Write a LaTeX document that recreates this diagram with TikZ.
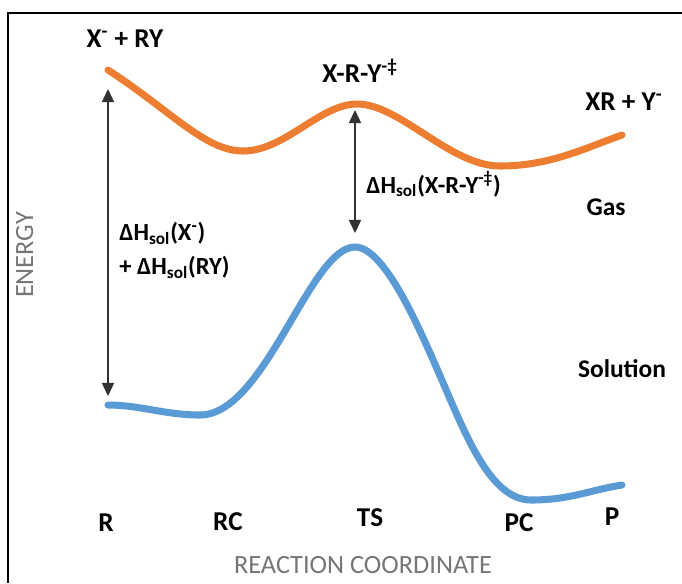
\documentclass[tikz,border=0pt]{standalone}
\usepackage{fontspec}
\setmainfont{Carlito}
\usetikzlibrary{arrows.meta}
\usepackage{xcolor}
\definecolor{GasOrange}{RGB}{237,125,49}
\definecolor{SolBlue}{RGB}{91,155,213}
\definecolor{AxisGray}{RGB}{118,118,118}

\begin{document}
\begin{tikzpicture}[
x=0.02cm,y=-0.02cm,
curve/.style={
line width=4pt,
line cap=round
},
species/.style={
anchor=base,
inner sep=0pt,
font=\fontsize{15.5}{18}\selectfont\bfseries
},
state/.style={
anchor=base,
inner sep=0pt,
font=\fontsize{15.5}{18}\selectfont\bfseries
},
phase/.style={
anchor=base,
inner sep=0pt,
font=\fontsize{14.5}{17}\selectfont\bfseries
},
dh/.style={
inner sep=0pt,
align=left,
font=\fontsize{14}{19.5}\selectfont\bfseries
},
axis/.style={
inner sep=0pt,
text=AxisGray,
font=\fontsize{15}{17}\selectfont
},
arrow/.style={
{Triangle[length=7.5pt,width=7pt]}-{Triangle[length=7.5pt,width=7pt]},
line width=0.6pt,
draw=black!80
}
]
\useasboundingbox (0,0) rectangle (682,583);

% frame
\draw[line width=0.8pt] (8,583) |- (682,13);

% energy curves
\draw[curve,GasOrange] (108,70) .. controls (170,110) and (205,151) .. (243,151)
  .. controls (285,151) and (320,104) .. (357,104)
  .. controls (400,104) and (450,166) .. (500,166)
  .. controls (550,166) and (585,148) .. (622,135);
\draw[curve,SolBlue] (108,405) .. controls (140,405) and (165,415) .. (200,415)
  .. controls (265,415) and (310,247) .. (355,247)
  .. controls (385,247) and (420,330) .. (441,378)
  .. controls (465,433) and (490,500) .. (531,500)
  .. controls (570,500) and (590,490) .. (622,485);

% solvation gaps
\coordinate (gasR) at (108,89);
\coordinate (solR) at (108,396);
\coordinate (gasTS) at (355,110);
\coordinate (solTS) at (355,233);
\draw[arrow] (gasR)--(solR);
\draw[arrow] (gasTS)--(solTS);

% labels
\node[species] (react) at (125,47) {X\textsuperscript{-} + RY};
\node[species] (ts) at (360,82) {X-R-Y\textsuperscript{-‡}};
\node[state] (prod) at (624,110) {XR + Y\textsuperscript{-}};
\node[dh,anchor=base west] (dhts) at (366,193) {ΔH\textsubscript{sol}(X-R-Y\textsuperscript{-‡})};
\node[dh,anchor=north west] (dhr) at (119,222) {ΔH\textsubscript{sol}(X\textsuperscript{-})\\+ ΔH\textsubscript{sol}(RY)};
\node[phase] (gas) at (606,215) {Gas};
\node[phase] (sol) at (622,377) {Solution};

\node[state] (r) at (106,531) {R};
\node[state] (rc) at (228,530) {RC};
\node[state] (tsb) at (370,526) {TS};
\node[state] (pc) at (519,531) {PC};
\node[state] (p) at (612,525) {P};

\node[axis,rotate=90,anchor=base] (energy) at (33,255) {ENERGY};
\node[axis,anchor=base] (coord) at (363,573) {REACTION COORDINATE};

\end{tikzpicture}
\end{document}
